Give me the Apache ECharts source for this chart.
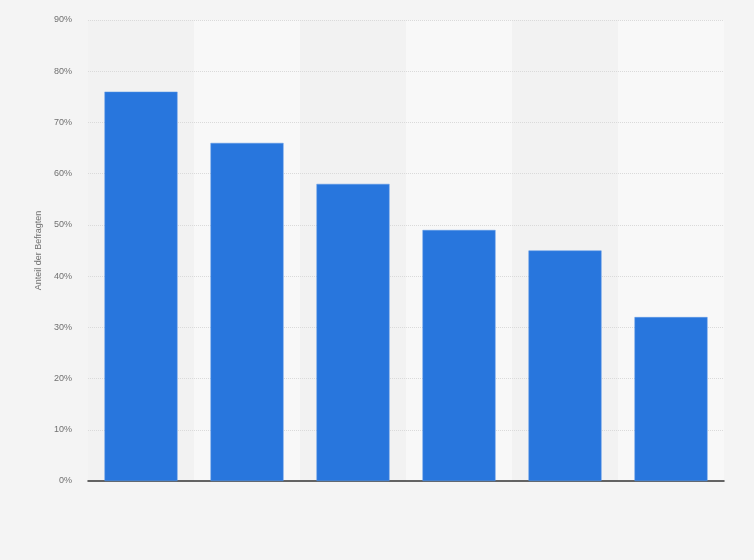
<!DOCTYPE html>
<html>
<head>
<meta charset="utf-8">
<script src="https://cdn.jsdelivr.net/npm/echarts@6/dist/echarts.min.js"></script>
<style>
html,body{margin:0;padding:0;background:#f4f4f4;}
#myChart{width:754px;height:560px;}
</style>
</head>
<body>
<div id="myChart"></div>
<script type="text/javascript">
//Daten
var categories = ['1', '2', '3', '4', '5', '6'];
var values = [76, 66, 58, 49, 45, 32];
var yTicks = [0, 10, 20, 30, 40, 50, 60, 70, 80, 90];

var option = {
	backgroundColor: '#f4f4f4',
	animation: false,
	grid: { left: 88, right: 30, top: 20, bottom: 79 },
	xAxis: {
		type: 'category',
		data: categories,
		z: 0,
		axisLine: { lineStyle: { color: '#333', width: 1.5 } },
		axisTick: { show: false },
		axisLabel: { show: false },
		splitArea: { show: true, areaStyle: { color: ['#f2f2f2', '#f8f8f8'] } }
	},
	yAxis: {
		type: 'value',
		z: 1,
		min: yTicks[0],
		max: yTicks[yTicks.length - 1],
		interval: 10,
		name: 'Anteil der Befragten',
		nameLocation: 'middle',
		nameGap: 44,
		nameTextStyle: { fontFamily: 'Liberation Sans', fontSize: 9, color: '#707070' },
		axisLine: { show: false },
		axisTick: { show: false },
		axisLabel: {
			margin: 16,
			fontFamily: 'Liberation Sans',
			fontSize: 9,
			color: '#707070',
			formatter: '{value}%'
		},
		splitLine: { showMinLine: false, lineStyle: { color: '#dadada', type: [1, 1], width: 1 } }
	},
	series: [
		{
			type: 'bar',
			z: 3,
			data: values,
			barWidth: 73,
			itemStyle: { color: '#2876dd', borderColor: '#5a97e6', borderWidth: 0.5 }
		}
	]
};
echarts.init(document.getElementById('myChart')).setOption(option);
</script>
</body>
</html>
